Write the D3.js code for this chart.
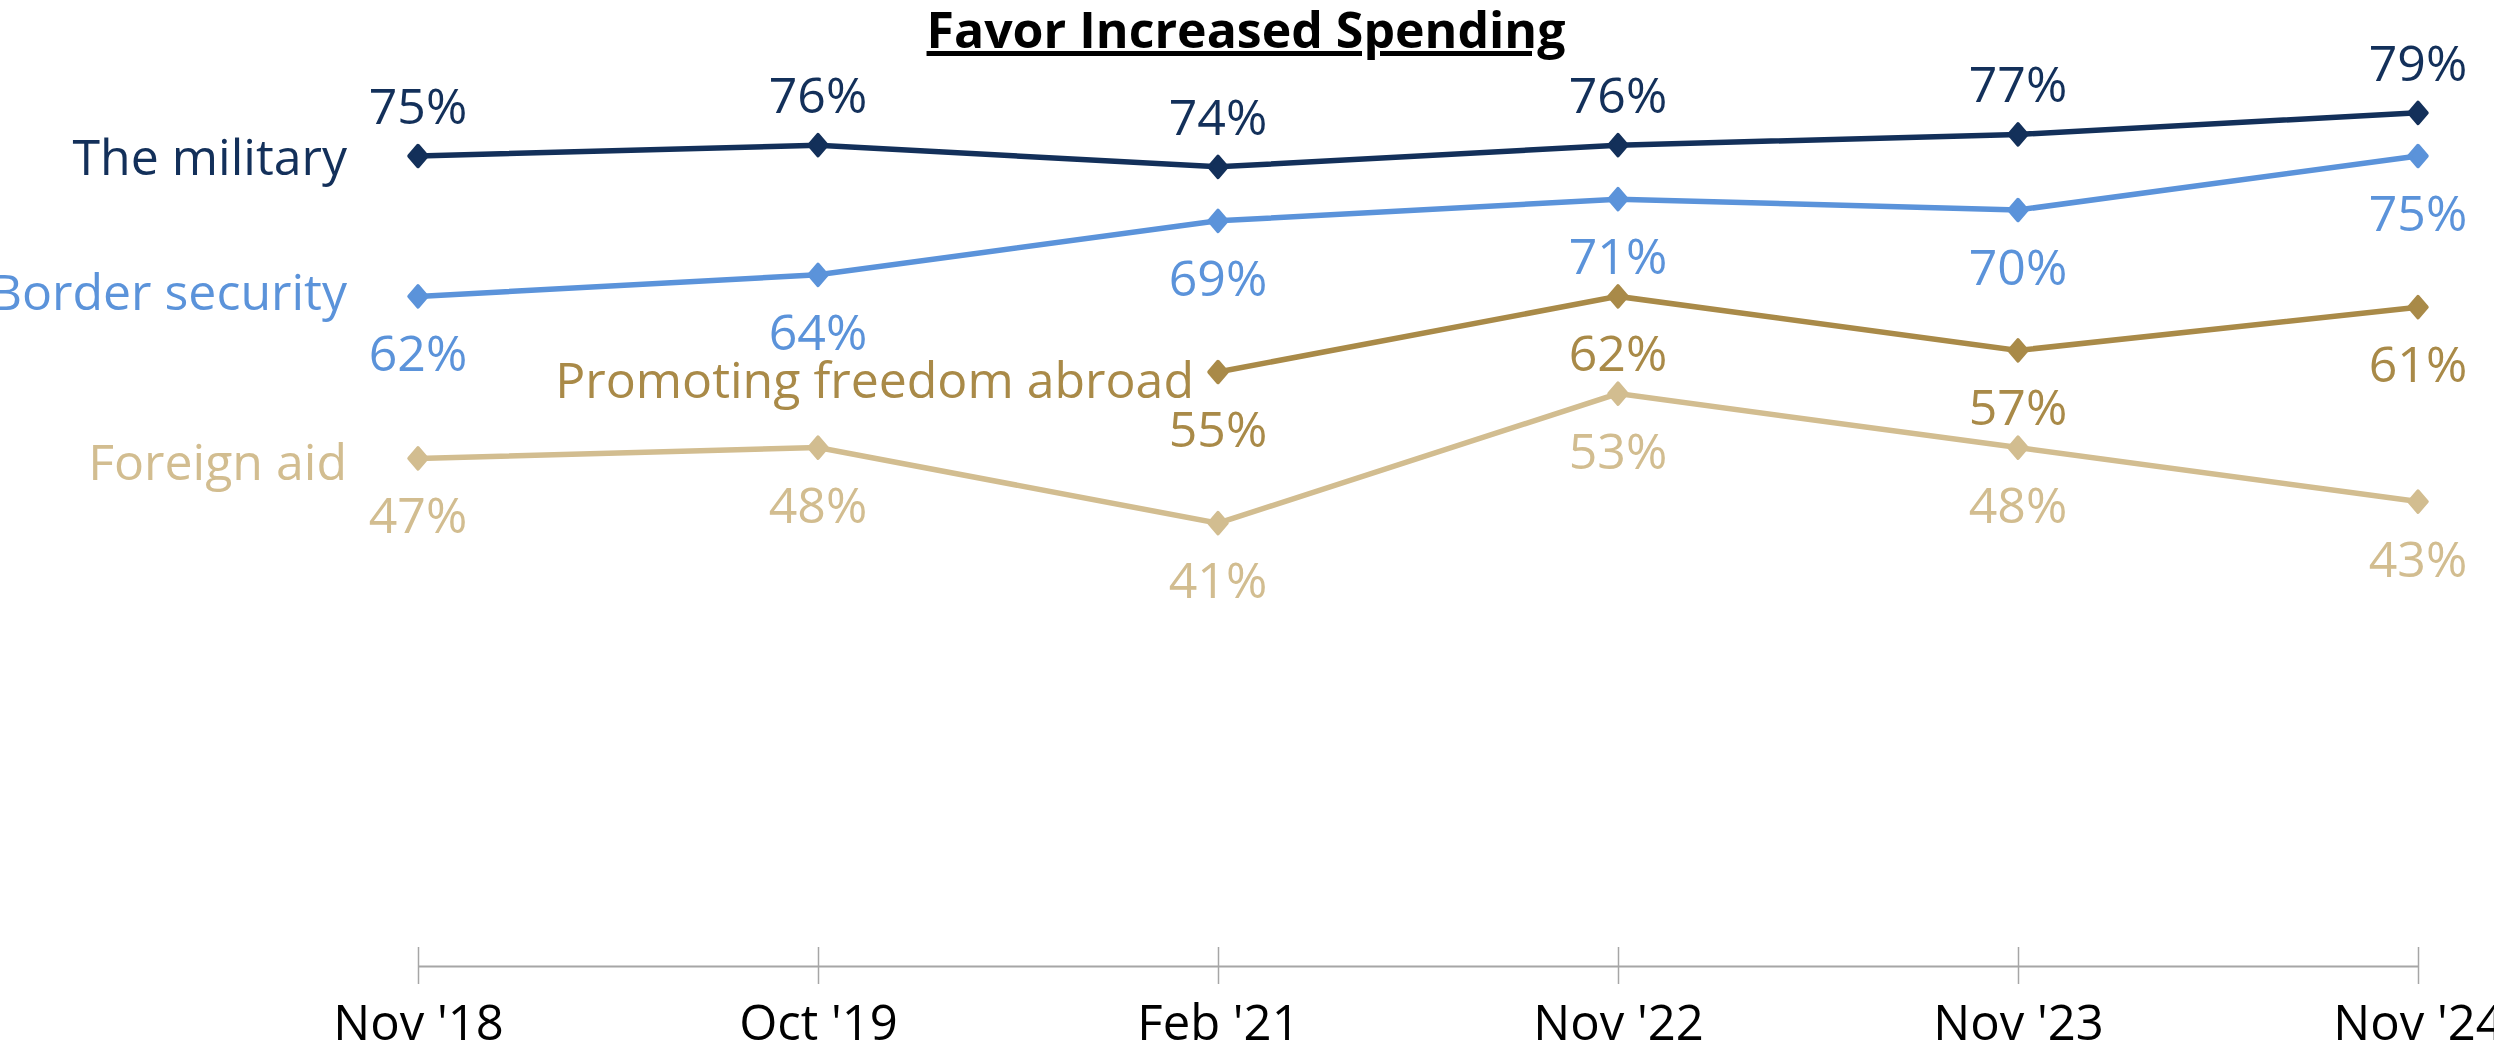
<!DOCTYPE html>
<html>
<head>
<meta charset="utf-8">
<script src="https://cdn.jsdelivr.net/npm/d3@7"></script>
<style>
  body { margin: 0; background: #fff; }
  text { font-family: "Open Sans", sans-serif; }
</style>
</head>
<body>
<script>
'use strict';

var width  = 2494;
var height = 1053;

var periods   = ["Nov '18", "Oct '19", "Feb '21", "Nov '22", "Nov '23", "Nov '24"];
var military  = [75, 76, 74, 76, 77, 79];
var border    = [62, 64, 69, 71, 70, 75];
var promoting = [null, null, 55, 62, 57, 61];
var foreign   = [47, 48, 41, 53, 48, 43];

// name, values, colour, where the value labels go, nudge for the series name
var series = [
  { name: 'The military',             values: military,  color: '#13305a', pos: 'above', nameDy: 19 },
  { name: 'Border security',          values: border,    color: '#5b93da', pos: 'below', nameDy: 14 },
  { name: 'Promoting freedom abroad', values: promoting, color: '#a98a48', pos: 'below', nameDy: 26 },
  { name: 'Foreign aid',              values: foreign,   color: '#d2bd90', pos: 'below', nameDy: 22 }
];

var svg = d3.select('body').append('svg')
    .attr('width', width)
    .attr('height', height);

var x = d3.scalePoint()
    .domain(periods)
    .range([418, 2418]);

var y = d3.scaleLinear()
    .domain([0, 100])
    .range([966, -114]);

// title
svg.append('text')
  .attr('x', 1246)
  .attr('y', 48)
  .attr('text-anchor', 'middle')
  .attr('font-size', 50)
  .attr('font-weight', 'bold')
  .attr('text-decoration', 'underline')
  .attr('fill', '#000')
  .text('Favor Increased Spending');

// x axis
var axis = svg.append('g')
    .attr('transform', 'translate(0,' + y(0) + ')')
    .call(d3.axisBottom(x).tickSize(18).tickSizeOuter(0));

axis.select('.domain').attr('stroke', '#a6a6a6').attr('stroke-width', 2);
axis.selectAll('.tick line').attr('y1', -19).attr('stroke', '#a6a6a6').attr('stroke-width', 1.5);
axis.selectAll('.tick text')
  .attr('y', 74)
  .attr('dy', 0)
  .attr('font-size', 49)
  .attr('font-family', '"Open Sans", sans-serif')
  .attr('fill', '#000');

var line = d3.line()
    .defined(function(d) { return d != null; })
    .x(function(d, i) { return x(periods[i]); })
    .y(function(d) { return y(d); });

// squat diamond, nearly as wide as tall
var squatDiamond = {
  draw: function(context, size) {
    var w = 9, h = 10.5;
    context.moveTo(0, -h);
    context.lineTo(w, 0);
    context.lineTo(0, h);
    context.lineTo(-w, 0);
    context.closePath();
  }
};
var diamond = d3.symbol().type(squatDiamond);

series.forEach(function(s) {
  var g = svg.append('g');
  var pts = s.values.map(function(v, i) { return { v: v, p: periods[i] }; })
      .filter(function(d) { return d.v != null; });

  g.append('path')
    .datum(s.values)
    .attr('d', line)
    .attr('fill', 'none')
    .attr('stroke', s.color)
    .attr('stroke-width', 5.5);

  g.selectAll('.pt').data(pts).enter().append('path')
    .attr('class', 'pt')
    .attr('d', diamond)
    .attr('transform', function(d) { return 'translate(' + x(d.p) + ',' + y(d.v) + ')'; })
    .attr('fill', s.color)
    .attr('stroke', s.color)
    .attr('stroke-width', 3.5)
    .attr('stroke-linejoin', 'round');

  g.selectAll('.lbl').data(pts).enter().append('text')
    .attr('class', 'lbl')
    .attr('x', function(d) { return x(d.p); })
    .attr('y', function(d) { return y(d.v) + (s.pos === 'above' ? -32 : 75); })
    .attr('text-anchor', 'middle')
    .attr('font-size', 50)
    .attr('fill', s.color)
    .text(function(d) { return d.v + '%'; });

  var first = pts[0];
  g.append('text')
    .attr('x', x(first.p) - (first.p === periods[0] ? 71 : 24))
    .attr('y', y(first.v) + s.nameDy)
    .attr('text-anchor', 'end')
    .attr('font-size', 50)
    .attr('fill', s.color)
    .text(s.name);
});
</script>
</body>
</html>
